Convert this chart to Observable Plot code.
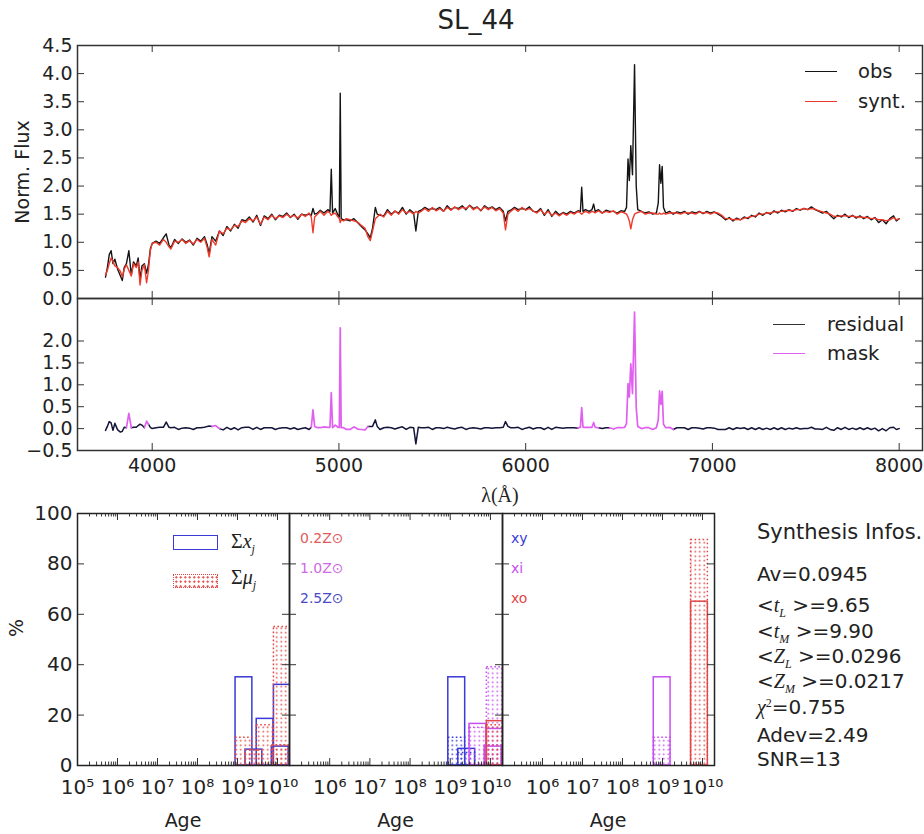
<!DOCTYPE html>
<html><head><meta charset="utf-8">
<script src="https://cdn.jsdelivr.net/npm/d3@7"></script>
<script src="https://cdn.jsdelivr.net/npm/@observablehq/plot@0.6"></script>
<style>
body{margin:0;background:#fff;}
#fig{position:relative;width:924px;height:834px;overflow:hidden;font-family:"DejaVu Sans",sans-serif;color:#222;background:#fff;}
.t{position:absolute;white-space:nowrap;line-height:1;}
.m{font-family:"Liberation Serif",serif;font-style:italic;}
.ms{font-family:"Liberation Serif",serif;font-style:italic;font-size:0.6em;vertical-align:-0.35em;}
.mp{font-family:"Liberation Serif",serif;font-size:0.6em;vertical-align:0.6em;}
</style></head><body>
<svg width="0" height="0" style="position:absolute"><defs>
<pattern id="dotRed" width="4.5" height="4.5" patternUnits="userSpaceOnUse"><circle cx="2.25" cy="2.25" r="0.9" fill="#e04848"/></pattern>
<pattern id="dotMag" width="4.5" height="4.5" patternUnits="userSpaceOnUse"><circle cx="2.25" cy="2.25" r="0.9" fill="#c64ff0"/></pattern>
<pattern id="dotBlue" width="4.5" height="4.5" patternUnits="userSpaceOnUse"><circle cx="2.25" cy="2.25" r="0.9" fill="#3a3ad8"/></pattern>
</defs></svg>
<div id="fig"></div>
<script>
// ---------------- DATA ----------------
const title = "SL_44";
const lambda = [
 3750,3760,3770,3780,3790,3800,3815,3830,3840,3850,
 3862,3875,3888,3900,3915,3925,3935,3945,3958,3970,
 3980,3990,4000,4020,4040,4060,4075,4090,4100,4120,
 4140,4160,4180,4200,4220,4240,4260,4280,4295,4305,
 4320,4340,4360,4380,4400,4420,4440,4460,4480,4500,
 4520,4540,4560,4580,4600,4620,4640,4660,4680,4700,
 4720,4740,4760,4780,4800,4820,4840,4852,4861,4870,
 4885,4900,4920,4940,4952,4959,4966,4980,4995,5002,
 5007,5012,5025,5040,5060,5080,5100,5120,5140,5155,
 5168,5180,5195,5205,5220,5240,5260,5280,5300,5320,
 5340,5360,5380,5400,5412,5425,5440,5460,5480,5500,
 5520,5540,5560,5580,5600,5620,5640,5660,5680,5700,
 5720,5740,5760,5780,5800,5820,5840,5860,5880,5892,
 5905,5920,5940,5960,5980,6000,6020,6040,6060,6080,
 6100,6120,6140,6160,6180,6200,6220,6240,6260,6280,
 6293,6300,6307,6320,6340,6355,6364,6372,6390,6410,
 6430,6450,6470,6490,6510,6530,6540,6548,6555,6563,
 6572,6583,6592,6600,6620,6640,6660,6680,6700,6710,
 6717,6724,6731,6738,6750,6770,6790,6810,6830,6850,
 6870,6890,6910,6930,6950,6970,6990,7010,7030,7050,
 7070,7090,7110,7130,7150,7170,7190,7210,7230,7250,
 7270,7290,7310,7330,7350,7370,7390,7410,7430,7450,
 7470,7490,7510,7530,7550,7570,7590,7610,7630,7650,
 7670,7690,7710,7730,7750,7770,7790,7810,7830,7850,
 7870,7890,7910,7930,7950,7970,7985,8000];
const obsFlux = [
 0.38,0.55,0.78,0.85,0.62,0.70,0.52,0.40,0.32,0.55,
 0.62,0.85,0.42,0.65,0.58,0.72,0.34,0.58,0.62,0.45,
 0.60,0.88,0.98,1.02,0.98,1.08,1.15,0.95,0.90,1.05,
 0.98,1.06,1.00,1.04,0.95,1.07,1.02,1.10,0.95,0.80,
 1.10,1.02,1.20,1.12,1.28,1.20,1.32,1.25,1.40,1.38,
 1.45,1.36,1.48,1.30,1.47,1.42,1.50,1.40,1.48,1.46,
 1.52,1.44,1.50,1.41,1.50,1.48,1.50,1.48,1.60,1.50,
 1.52,1.57,1.52,1.58,1.55,2.30,1.52,1.60,1.48,1.45,
 3.65,1.42,1.40,1.40,1.38,1.42,1.35,1.28,1.22,1.15,
 1.08,1.25,1.62,1.50,1.48,1.47,1.58,1.50,1.55,1.52,
 1.62,1.50,1.58,1.52,1.20,1.55,1.57,1.62,1.58,1.60,
 1.58,1.62,1.55,1.65,1.58,1.62,1.60,1.65,1.58,1.66,
 1.60,1.63,1.56,1.65,1.60,1.63,1.58,1.62,1.55,1.38,
 1.55,1.57,1.62,1.58,1.60,1.58,1.63,1.55,1.54,1.60,
 1.48,1.58,1.46,1.55,1.49,1.53,1.50,1.55,1.52,1.56,
 1.55,1.98,1.55,1.58,1.55,1.58,1.68,1.55,1.58,1.52,
 1.57,1.55,1.55,1.52,1.56,1.55,1.62,2.48,2.10,2.72,
 2.20,4.16,2.00,1.58,1.55,1.52,1.54,1.50,1.52,1.70,
 2.38,2.05,2.35,1.62,1.52,1.55,1.50,1.54,1.52,1.55,
 1.50,1.54,1.52,1.55,1.51,1.55,1.52,1.54,1.50,1.46,
 1.40,1.44,1.38,1.43,1.40,1.45,1.42,1.48,1.45,1.52,
 1.48,1.53,1.50,1.56,1.52,1.57,1.54,1.58,1.55,1.60,
 1.57,1.60,1.58,1.63,1.58,1.55,1.52,1.55,1.48,1.42,
 1.48,1.45,1.50,1.44,1.48,1.43,1.47,1.42,1.46,1.40,
 1.44,1.35,1.40,1.33,1.42,1.47,1.38,1.42];
const syntFlux = [
 0.42,0.50,0.62,0.72,0.66,0.58,0.55,0.48,0.38,0.52,
 0.60,0.50,0.40,0.62,0.55,0.65,0.24,0.50,0.60,0.28,
 0.50,0.85,0.98,1.00,0.95,1.05,1.00,0.92,0.88,1.02,
 1.00,1.05,0.98,1.03,0.97,1.05,1.00,1.07,0.90,0.74,
 1.05,0.95,1.20,1.15,1.25,1.22,1.30,1.28,1.38,1.35,
 1.42,1.38,1.45,1.32,1.45,1.40,1.48,1.42,1.47,1.44,
 1.50,1.45,1.48,1.43,1.50,1.46,1.52,1.45,1.17,1.45,
 1.50,1.55,1.48,1.55,1.52,1.48,1.50,1.52,1.45,1.42,
 1.35,1.40,1.38,1.42,1.40,1.38,1.36,1.30,1.25,1.10,
 1.03,1.20,1.42,1.45,1.50,1.45,1.55,1.48,1.56,1.50,
 1.58,1.52,1.55,1.50,1.55,1.52,1.55,1.60,1.55,1.62,
 1.56,1.60,1.55,1.62,1.57,1.63,1.58,1.62,1.60,1.65,
 1.58,1.62,1.57,1.63,1.58,1.62,1.56,1.60,1.52,1.22,
 1.50,1.55,1.60,1.55,1.62,1.57,1.60,1.56,1.52,1.58,
 1.50,1.55,1.48,1.52,1.47,1.52,1.48,1.53,1.50,1.55,
 1.52,1.50,1.52,1.55,1.52,1.55,1.54,1.52,1.56,1.52,
 1.55,1.53,1.56,1.50,1.54,1.52,1.50,1.45,1.38,1.24,
 1.40,1.50,1.52,1.53,1.55,1.50,1.52,1.52,1.50,1.50,
 1.52,1.50,1.50,1.52,1.50,1.52,1.52,1.52,1.50,1.53,
 1.52,1.52,1.50,1.54,1.52,1.53,1.50,1.53,1.52,1.48,
 1.42,1.42,1.40,1.41,1.40,1.43,1.44,1.46,1.47,1.50,
 1.50,1.52,1.52,1.54,1.54,1.55,1.56,1.57,1.56,1.58,
 1.58,1.60,1.58,1.60,1.59,1.56,1.54,1.52,1.50,1.46,
 1.46,1.47,1.47,1.46,1.47,1.45,1.45,1.44,1.44,1.42,
 1.43,1.40,1.40,1.38,1.40,1.44,1.40,1.42];
const maskRanges = [[3862,3888],[3958,3980],[4320,4360],[4852,5155],[6280,6390],[6450,6790]];
const lambdaTicks = [4000,5000,6000,7000,8000];
const fluxTicks = [0,0.5,1,1.5,2,2.5,3,3.5,4,4.5];
const resTicks = [-0.5,0,0.5,1,1.5,2];
const specLegend = ["obs","synt."];
const resLegend = ["residual","mask"];

// population vectors (age in yr, %)
const sumAges  = [1.45e9, 2.57e9, 4.9e9, 1.17e10, 1.32e10];
const sumLight = [35, 6.3, 18.5, 7.5, 32];
const sumMass  = [11, 6, 16, 8, 55];
const zAges  = [1.45e9, 2.57e9, 4.9e9, 1.17e10, 1.32e10, 1.32e10];
const zGroup = ["2.5Z","2.5Z","1.0Z","1.0Z","1.0Z","0.2Z"];
const zLight = [35, 6.6, 16.5, 7.5, 14.5, 17.6];
const zMass  = [11, 5, 15, 8, 39, 16];
const popAges  = [9.8e8, 8.4e9];
const popGroup = ["xi","xo"];
const popLight = [35, 65];
const popMass  = [11, 89.5];
const zLabels = ["0.2Z⊙","1.0Z⊙","2.5Z⊙"];
const popLabels = ["xy","xi","xo"];
const pctTicks = [0,20,40,60,80,100];
const ageMajor = [1e5,1e6,1e7,1e8,1e9,1e10];
const infoTitle = "Synthesis Infos.";
const infoLines = [
 'Av=0.0945',
 '&lt;<span class="m">t</span><span class="ms">L</span> &gt;=9.65',
 '&lt;<span class="m">t</span><span class="ms">M</span> &gt;=9.90',
 '&lt;<span class="m">Z</span><span class="ms">L</span> &gt;=0.0296',
 '&lt;<span class="m">Z</span><span class="ms">M</span> &gt;=0.0217',
 '<span class="m">χ</span><span class="mp">2</span>=0.755',
 'Adev=2.49',
 'SNR=13'];

// ---------------- STYLE ----------------
const FONT = '"DejaVu Sans", sans-serif';
const SERIF = '"Liberation Serif", "DejaVu Serif", serif';
const INK = "#333";
const BLUE = "#3a3ad8", RED = "#e04848", MAG = "#c64ff0";
const groupColor = {"0.2Z": RED, "1.0Z": MAG, "2.5Z": BLUE, "xy": BLUE, "xi": MAG, "xo": RED};
const groupDots = {"0.2Z": "url(#dotRed)", "1.0Z": "url(#dotMag)", "2.5Z": "url(#dotBlue)", "xy": "url(#dotBlue)", "xi": "url(#dotMag)", "xo": "url(#dotRed)"};
const fig = document.getElementById("fig");
const baseStyle = {fontFamily: FONT, fontSize: "19px", color: "#222", background: "transparent", overflow: "visible"};

function place(svg, top) {
  svg.style.position = "absolute"; svg.style.left = "0px"; svg.style.top = top + "px";
  svg.style.maxWidth = "none";
  fig.appendChild(svg);
}
function label(html, x, y, o = {}) {
  const d = document.createElement("div");
  d.className = "t"; d.innerHTML = html;
  const tx = o.anchor === "middle" ? "-50%" : o.anchor === "end" ? "-100%" : "0";
  d.style.cssText = `left:${x}px;top:${y}px;font-size:${o.size || 19}px;color:${o.color || "#222"};font-family:${o.family || FONT};transform:translate(${tx},-50%) rotate(${o.rotate || 0}deg);`;
  fig.appendChild(d);
}
function legendLine(x, y, w, color, width = 1.5) {
  const d = document.createElement("div");
  d.style.cssText = `position:absolute;left:${x}px;top:${y - width / 2}px;width:${w}px;height:0;border-top:${width}px solid ${color};`;
  fig.appendChild(d);
}
function legendBox(x, y, w, h, css) {
  const d = document.createElement("div");
  d.style.cssText = `position:absolute;left:${x}px;top:${y}px;width:${w}px;height:${h}px;box-sizing:border-box;${css}`;
  fig.appendChild(d);
}
// inward tick marks on all four sides of a frame of W x H pixels
const inTicks = (xt, yt, W, H, len = 7) => [
  yt ? Plot.tickY(yt, {y: d => d, insetRight: W - len, stroke: INK, strokeWidth: 1}) : null,
  yt ? Plot.tickY(yt, {y: d => d, insetLeft: W - len, stroke: INK, strokeWidth: 1}) : null,
  xt ? Plot.tickX(xt, {x: d => d, insetTop: H - len, stroke: INK, strokeWidth: 1}) : null,
  xt ? Plot.tickX(xt, {x: d => d, insetBottom: H - len, stroke: INK, strokeWidth: 1}) : null
];

// ---------------- SPECTRUM ----------------
const xDomain = [3600, 8125];
const spec = lambda.map((l, i) => ({lambda: l, obs: obsFlux[i], synt: syntFlux[i]}));
const inMask = l => maskRanges.some(([a, b]) => l >= a && l <= b);
const inMaskInner = l => maskRanges.some(([a, b]) => l > a && l < b);
const resRows = spec.map(d => {
  const r = d.obs - d.synt;
  return {lambda: d.lambda, black: inMaskInner(d.lambda) ? NaN : r, mag: inMask(d.lambda) ? r : NaN};
});
const f1 = d3.format(".1f");

place(Plot.plot({
  width: 924, height: 299, marginTop: 45, marginBottom: 1, marginLeft: 77, marginRight: 2,
  style: baseStyle,
  x: {domain: xDomain, axis: null}, y: {domain: [0, 4.5]},
  marks: [
    Plot.line(spec, {x: "lambda", y: "obs", stroke: "#141414", strokeWidth: 1.4}),
    Plot.line(spec, {x: "lambda", y: "synt", stroke: "#ee3a2a", strokeWidth: 1.4}),
    Plot.axisY(fluxTicks, {tickSize: 0, tickPadding: 5, tickFormat: f1, label: null}),
    ...inTicks(lambdaTicks, fluxTicks, 845, 253),
    Plot.frame({stroke: INK, strokeWidth: 1.5})
  ]
}), 0);

place(Plot.plot({
  width: 924, height: 500, marginTop: 298, marginBottom: 50, marginLeft: 77, marginRight: 2,
  style: baseStyle,
  x: {domain: xDomain}, y: {domain: [-0.5, 2.97]},
  marks: [
    Plot.line(resRows, {x: "lambda", y: "black", stroke: "#15153a", strokeWidth: 1.5}),
    Plot.line(resRows, {x: "lambda", y: "mag", stroke: "#e060f0", strokeWidth: 1.7}),
    Plot.axisY(resTicks, {tickSize: 0, tickPadding: 5, tickFormat: f1, label: null}),
    Plot.axisX(lambdaTicks, {anchor: "bottom", tickSize: 0, tickPadding: 8, tickFormat: d => String(d), label: null}),
    ...inTicks(lambdaTicks, resTicks, 845, 152),
    Plot.frame({stroke: INK, strokeWidth: 1.5})
  ]
}), 0);

// ---------------- AGE PANELS ----------------
const ageMax = 10 ** 10.3;
const halfBar = 10 ** 0.21;
const ageMinor = [];
for (let e = 5; e <= 10; e++) for (let m = 2; m <= 9; m++) { const v = m * 10 ** e; if (v <= ageMax) ageMinor.push(v); }
const supDigits = {"0":"⁰","1":"¹","2":"²","3":"³","4":"⁴","5":"⁵","6":"⁶","7":"⁷","8":"⁸","9":"⁹"};
const ageFmt = d => "10" + String(Math.round(Math.log10(d))).split("").map(c => supDigits[c]).join("");

function agePanel(left, right, labelTicks, showY, marks) {
  const W = right - left, H = 252;
  return Plot.plot({
    width: 924, height: 334, marginTop: 13, marginBottom: 69, marginLeft: left, marginRight: 924 - right,
    style: {...baseStyle, fontSize: "20px"},
    x: {type: "log", domain: [1e5, ageMax]}, y: {domain: [0, 100], axis: showY ? undefined : null},
    marks: [
      ...marks,
      Plot.axisX(labelTicks, {anchor: "bottom", tickSize: 0, tickPadding: 14, tickFormat: ageFmt, label: null}),
      showY ? Plot.axisY(pctTicks, {tickSize: 0, tickPadding: 5, tickFormat: d => String(d), label: null}) : null,
      ...inTicks(ageMajor, pctTicks, W, H, 7),
      ...inTicks(ageMinor, null, W, H, 3.5),
      Plot.frame({stroke: "#222", strokeWidth: 1.5})
    ]
  });
}
const barOpts = (color) => ({x1: d => d.age / halfBar, x2: d => d.age * halfBar, y1: 0, y2: "v", clip: true, fill: "none", stroke: color, strokeWidth: 1.5});
const dotOpts = (color, pat) => ({...barOpts(color), fill: pat, strokeDasharray: "1.6 2.4"});

const sumL = sumAges.map((a, i) => ({age: a, v: sumLight[i]}));
const sumM = sumAges.map((a, i) => ({age: a, v: sumMass[i]}));
place(agePanel(77, 289, ageMajor, true, [
  Plot.rect(sumL, barOpts(BLUE)),
  Plot.rect(sumM, dotOpts(RED, "url(#dotRed)"))
]), 500);

const zMarks = [];
for (const g of ["2.5Z", "1.0Z", "0.2Z"]) {
  const L = zAges.map((a, i) => ({age: a, v: zLight[i], g: zGroup[i]})).filter(d => d.g === g);
  const M = zAges.map((a, i) => ({age: a, v: zMass[i], g: zGroup[i]})).filter(d => d.g === g);
  zMarks.push(Plot.rect(L, barOpts(groupColor[g])), Plot.rect(M, dotOpts(groupColor[g], groupDots[g])));
}
place(agePanel(289, 502, ageMajor.slice(1), false, zMarks), 500);

const pMarks = [];
for (const g of ["xy", "xi", "xo"]) {
  const L = popAges.map((a, i) => ({age: a, v: popLight[i], g: popGroup[i]})).filter(d => d.g === g);
  const M = popAges.map((a, i) => ({age: a, v: popMass[i], g: popGroup[i]})).filter(d => d.g === g);
  pMarks.push(Plot.rect(L, barOpts(groupColor[g])), Plot.rect(M, dotOpts(groupColor[g], groupDots[g])));
}
place(agePanel(502, 714, ageMajor.slice(1), false, pMarks), 500);

// ---------------- TEXT ----------------
label(title, 476, 20, {size: 26, anchor: "middle"});
label("Norm. Flux", 22, 172, {anchor: "middle", rotate: -90});
label("λ(Å)", 500, 495, {family: SERIF, anchor: "middle", size: 20});
label("%", 16, 628, {anchor: "middle", rotate: -90});
for (const cx of [183, 395.5, 608]) label("Age", cx, 820, {anchor: "middle"});

legendLine(805, 72, 32, "#141414");
legendLine(805, 102, 32, "#ee3a2a");
label(specLegend[0], 858, 72, {size: 19.5});
label(specLegend[1], 858, 102, {size: 19.5});
legendLine(773, 325, 32, "#333");
legendLine(773, 354, 32, "#e060f0");
label(resLegend[0], 827, 325, {size: 19.5});
label(resLegend[1], 827, 354, {size: 19.5});

legendBox(173, 535, 45, 15, `border:1.5px solid ${BLUE};`);
legendBox(173, 574, 45, 14, `border:1.5px dotted ${RED};background-image:radial-gradient(${RED} 0.9px, transparent 1.2px);background-size:4.5px 4.5px;`);
label('Σ<i>x</i><span style="font-size:0.6em;vertical-align:-0.4em;font-style:italic">j</span>', 231, 543, {family: SERIF, size: 20});
label('Σ<i>μ</i><span style="font-size:0.6em;vertical-align:-0.4em;font-style:italic">j</span>', 231, 579, {family: SERIF, size: 20});

const zLabelColor = ["#e05a5a", "#cf6ae6", "#4a4ac8"];
zLabels.forEach((t, i) => label(t, 300, 538 + 30 * i, {size: 14, color: zLabelColor[i]}));
const popLabelColor = ["#3a3ad8", "#c64ff0", "#e04848"];
popLabels.forEach((t, i) => label(t, 511, 538 + 30 * i, {size: 14, color: popLabelColor[i]}));

label(infoTitle, 757, 532, {size: 21});
const infoY = [574, 607, 633, 658, 683, 707, 735, 759];
infoLines.forEach((t, i) => label(t, 757, infoY[i], {size: 20}));
</script></body></html>
